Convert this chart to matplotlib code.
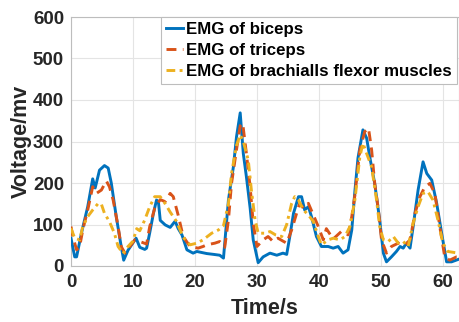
import matplotlib
matplotlib.use("Agg")
import matplotlib.pyplot as plt

# ---- data ----
t_biceps = [0, 0.6, 0.9, 1.7, 2.7, 3.5, 3.9, 4.6, 5.4, 6.0, 6.5, 7.3, 8.1, 8.5, 9.2,
            10.5, 11.1, 11.9, 12.2, 12.7, 13.3, 13.8, 14.1, 14.4, 15.2, 16.0, 16.8,
            17.3, 17.9, 18.7, 19.7, 20.3, 21.9, 23.0, 24.0, 24.6, 25.4, 26.2, 26.7,
            27.3, 27.8, 28.3, 28.9, 29.4, 30.2, 31.0, 32.1, 33.2, 34.2, 34.8, 35.3,
            35.9, 36.7, 37.2, 37.7, 38.3, 38.8, 39.6, 40.4, 41.5, 42.3, 43.1, 43.9,
            44.7, 45.3, 45.8, 46.3, 47.1, 47.7, 48.2, 49.0, 49.8, 50.4, 50.9, 51.7,
            52.5, 53.1, 53.6, 54.1, 54.7, 55.2, 56.0, 56.8, 57.4, 58.2, 59.0, 59.8,
            60.6, 61.4, 62.5]
v_biceps = [67, 22, 22, 80, 143, 210, 188, 231, 242, 236, 200, 119, 47, 14, 38,
            67, 45, 40, 43, 80, 127, 159, 155, 110, 99, 93, 108,
            90, 75, 39, 31, 35, 30, 28, 26, 19, 159, 239, 311,
            369, 271, 215, 140, 63, 8, 22, 31, 26, 31, 28, 71,
            127, 167, 167, 135, 143, 119, 71, 47, 47, 43, 47, 31,
            39, 87, 180, 260, 328, 308, 263, 199, 111, 31, 10, 22,
            35, 47, 43, 55, 43, 95, 183, 251, 223, 207, 151, 79,
            10, 10, 16]

t_triceps = [0, 0.3, 0.9, 1.4, 1.9, 2.7, 3.5, 4.1, 4.9, 5.7, 6.2, 6.8, 7.6, 8.1, 8.7,
             9.5, 10.3, 11.1, 12.2, 12.7, 13.5, 14.4, 15.2, 16.0, 16.5, 17.3, 18.1,
             19.2, 20.5, 21.3, 21.9, 23.2, 24.0, 24.8, 25.4, 25.9, 26.7, 27.3, 27.7,
             28.3, 28.9, 29.4, 30.0, 31.0, 31.8, 32.6, 33.4, 34.2, 34.8, 35.6, 36.4,
             36.9, 37.5, 38.3, 39.1, 39.9, 40.7, 41.2, 42.3, 43.6, 44.7, 45.3, 45.8,
             46.6, 47.4, 48.0, 48.5, 49.0, 49.6, 50.1, 50.9, 51.7, 52.8, 53.9, 54.7,
             55.5, 56.3, 57.1, 57.9, 58.7, 59.5, 60.3, 61.1, 62.2, 62.5]
v_triceps = [95, 71, 39, 47, 87, 135, 191, 175, 183, 205, 191, 159, 95, 47, 31,
             47, 63, 59, 53, 95, 139, 160, 155, 175, 167, 122, 71,
             47, 43, 47, 51, 55, 59, 45, 111, 199, 280, 338, 344,
             271, 191, 103, 47, 63, 71, 59, 67, 60, 55, 87, 127,
             151, 139, 151, 123, 95, 63, 90, 65, 83, 75, 119, 170,
             280, 324, 332, 280, 199, 135, 63, 31, 47, 55, 51, 63,
             127, 167, 191, 199, 175, 95, 22, 14, 22, 22]

t_brach = [0, 0.6, 1.4, 1.9, 2.7, 3.5, 4.4, 4.9, 5.4, 6.2, 7.0, 7.6, 8.4, 9.2, 10.0,
           10.6, 11.1, 11.9, 12.7, 13.5, 14.4, 15.2, 16.0, 17.0, 18.1, 19.2, 20.3,
           21.3, 22.7, 23.8, 24.6, 25.4, 25.9, 26.7, 27.3, 27.8, 28.6, 29.1, 29.7,
           30.2, 31.3, 32.1, 33.0, 34.0, 34.8, 35.6, 36.1, 36.7, 37.5, 38.3, 39.1,
           39.9, 40.4, 41.5, 42.3, 43.4, 44.2, 45.0, 45.8, 46.6, 47.1, 47.7, 48.5,
           49.3, 49.8, 50.4, 51.2, 52.0, 52.8, 53.6, 54.4, 55.2, 56.0, 56.8, 57.6,
           58.4, 59.2, 60.0, 60.8, 62.5]
v_brach = [91, 67, 63, 95, 119, 135, 151, 149, 127, 107, 79, 47, 30, 47, 60,
           90, 85, 111, 143, 167, 167, 150, 130, 108, 69, 51, 55,
           63, 79, 87, 97, 150, 223, 290, 316, 300, 255, 183, 111,
           79, 79, 83, 75, 71, 100, 151, 167, 159, 135, 123, 107,
           71, 51, 63, 67, 63, 71, 95, 159, 263, 296, 271, 239,
           159, 95, 63, 59, 71, 55, 59, 47, 103, 143, 175, 179,
           159, 111, 55, 35, 31]

labels = ["EMG of biceps", "EMG of triceps", "EMG of brachialls flexor muscles"]
x_ticks = [0, 10, 20, 30, 40, 50, 60]
y_ticks = [0, 100, 200, 300, 400, 500, 600]

# ---- figure ----
plt.rcParams['font.family'] = ['Liberation Sans', 'DejaVu Sans']
fig = plt.figure(figsize=(4.6, 3.22), dpi=100)
ax = fig.add_axes([71/460, (322-266)/322, (459-71)/460, (266-17)/322])

ax.plot(t_biceps, v_biceps, color='#0072BD', lw=2.1, label=labels[0], zorder=3)
ax.plot(t_triceps, v_triceps, color='#D95319', lw=2.1, dashes=(3.4, 2.2),
        label=labels[1], zorder=3)
ax.plot(t_brach, v_brach, color='#EDB120', lw=2.1, dashes=(3, 1.5, 1, 1.5),
        label=labels[2], zorder=3)

ax.set_xlim(0, 62.6)
ax.set_ylim(0, 600)
ax.set_xticks(x_ticks)
ax.set_yticks(y_ticks)
ax.grid(True, color='#e4e4e4', lw=0.8)
ax.set_axisbelow(True)
for s in ax.spines.values():
    s.set_color('#bdbdbd')
    s.set_linewidth(0.8)
ax.tick_params(axis='both', length=0, labelsize=13.5, colors='#262626')
ax.tick_params(axis='x', pad=6)
ax.tick_params(axis='y', pad=5)
for lab in ax.get_xticklabels() + ax.get_yticklabels():
    lab.set_fontweight('bold')

ax.set_xlabel('Time/s', fontsize=15.5, fontweight='bold', color='#262626', labelpad=5)
ax.set_ylabel('Voltage/mv', fontsize=15.5, fontweight='bold', color='#262626', labelpad=1)

leg = ax.legend(loc='upper left', bbox_to_anchor=(0.233, 1.0), borderaxespad=0,
                prop={'weight': 'bold', 'size': 12.2}, handlelength=1.0,
                handletextpad=0.15, labelspacing=0.36, borderpad=0.3,
                fancybox=False, framealpha=1, edgecolor='#bdbdbd')
leg.get_frame().set_linewidth(0.8)

fig.savefig('out.png', dpi=100)
